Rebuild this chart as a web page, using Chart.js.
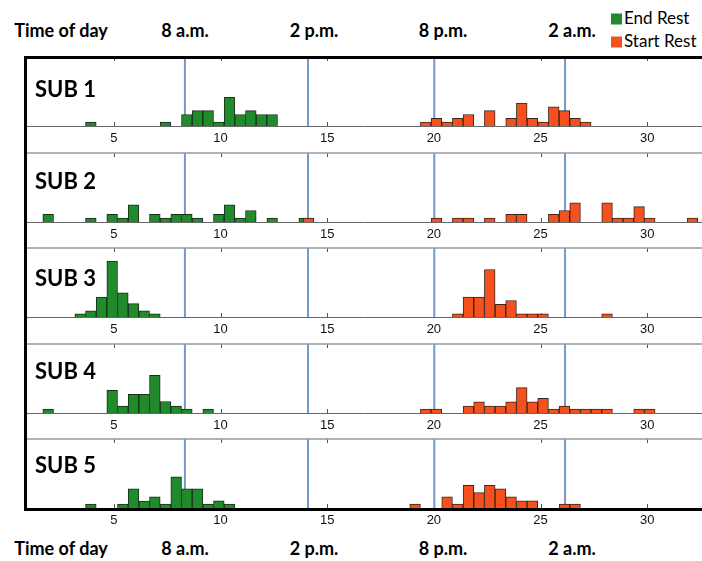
<!DOCTYPE html>
<html>
<head>
<meta charset="utf-8">
<script src="https://cdn.jsdelivr.net/npm/chart.js@4.4.1/dist/chart.umd.min.js"></script>
<style>
  body { margin: 0; width: 702px; height: 561px; background: #fff; position: relative; overflow: hidden; font-family: Lato, "Open Sans", sans-serif; color: #000; }
  .panel { position: absolute; left: 26px; width: 676px; height: 97px; }
  .frame { position: absolute; left: 24px; top: 56px; width: 700px; height: 449px; border: 3px solid #000; border-right: none; pointer-events: none; }
  .sub { position: absolute; left: 35px; font-weight: bold; font-size: 22px; line-height: 1; transform: translateY(-50%); }
  .hdr { position: absolute; font-weight: bold; font-size: 18px; line-height: 1; transform: translate(-50%, -50%); white-space: nowrap; }
  .legend { position: absolute; font-size: 17px; line-height: 1; transform: translateY(-50%); white-space: nowrap; }
  .legend span { display: inline-block; width: 11px; height: 11px; margin-right: 2px; vertical-align: -1px; }
</style>
</head>
<body>
<div id="charts"></div>
<div class="frame"></div>

<script>
// Axis range (hours) and ticks.
const xMin = 0.88;
const xMax = 32.57;
const tickValues = [5, 10, 15, 20, 25, 30];
const binWidth = 0.5;

// Clock reference lines and their labels.
const clockLines = [8.33, 14.1, 20.02, 26.15];
const clockLabels = ['8 a.m.', '2 p.m.', '8 p.m.', '2 a.m.'];

const subjects = ['SUB 1', 'SUB 2', 'SUB 3', 'SUB 4', 'SUB 5'];

// End Rest histograms: [bin centre, count].
const endRest1 = [[3.92, 1], [7.42, 1], [8.42, 3], [8.92, 4], [9.42, 4], [9.92, 1], [10.42, 7.5], [10.92, 3], [11.42, 4], [11.92, 3], [12.42, 3]];
const endRest2 = [[1.92, 2], [3.92, 1], [4.92, 2], [5.42, 1], [5.92, 4.5], [6.92, 2], [7.42, 1], [7.92, 2], [8.42, 2], [8.92, 1], [9.92, 2], [10.42, 4.5], [10.92, 1], [11.42, 3], [12.42, 1], [13.92, 1]];
const endRest3 = [[3.42, 0.8], [3.92, 1.6], [4.42, 5.2], [4.92, 14.6], [5.42, 6.3], [5.92, 3.5], [6.42, 1.6], [6.92, 0.8]];
const endRest4 = [[1.92, 1], [4.92, 5.9], [5.42, 1.8], [5.92, 4.9], [6.42, 4.9], [6.92, 9.8], [7.42, 3], [7.92, 1.8], [8.42, 1], [9.42, 1]];
const endRest5 = [[3.92, 1], [5.42, 1], [5.92, 5], [6.42, 1.8], [6.92, 2.9], [7.42, 1], [7.92, 8.1], [8.42, 5], [8.92, 5], [9.42, 1], [9.92, 1.9], [10.42, 1]];

// Start Rest histograms: [bin centre, count].
const startRest1 = [[19.62, 1], [20.12, 2], [20.62, 1], [21.12, 2], [21.62, 3], [22.62, 4], [23.62, 2], [24.12, 6], [24.62, 2], [25.12, 1], [25.62, 5], [26.12, 4], [26.62, 2], [27.12, 1]];
const startRest2 = [[14.12, 1], [20.12, 1], [21.12, 1], [21.62, 1], [22.62, 1], [23.62, 2], [24.12, 2], [25.62, 2], [26.12, 3], [26.62, 5], [28.12, 5], [28.62, 1], [29.12, 1], [29.62, 4], [30.12, 1], [32.12, 1]];
const startRest3 = [[21.12, 0.8], [21.62, 5.2], [22.12, 5.2], [22.62, 12.4], [23.12, 3.3], [23.62, 4.3], [24.12, 0.8], [24.62, 0.8], [25.12, 0.8], [28.12, 0.8]];
const startRest4 = [[19.62, 1], [20.12, 1], [21.62, 1.8], [22.12, 2.9], [22.62, 1.8], [23.12, 1.8], [23.62, 2.9], [24.12, 6.6], [24.62, 2.9], [25.12, 3.8], [25.62, 1], [26.12, 1.8], [26.62, 1], [27.12, 1], [27.62, 1], [28.12, 1], [29.62, 1], [30.12, 1]];
const startRest5 = [[19.12, 1], [20.62, 2.9], [21.12, 1], [21.62, 5.9], [22.12, 4], [22.62, 5.9], [23.12, 5], [23.62, 2.9], [24.12, 1.9], [24.62, 1.9], [26.12, 1], [26.62, 1]];

const endRest = [endRest1, endRest2, endRest3, endRest4, endRest5];
const startRest = [startRest1, startRest2, startRest3, startRest4, startRest5];

const green = '#1f8b2b';
const orange = '#f4511f';
const yMax = 18;

const panelTops = [57, 153, 248, 344, 439];
const subCentres = [89, 181, 278, 371, 465];
const hdrCentres = [185, 314, 443, 572];
const canvasWidth = 676;

// Blue clock lines, frame lines and inward ticks, all from the x scale.
const panelDecor = {
  id: 'panelDecor',
  beforeDatasetsDraw(chart) {
    const { ctx, chartArea, scales: { x } } = chart;
    ctx.save();
    ctx.strokeStyle = '#555';
    ctx.lineWidth = 1;
    tickValues.forEach(function (v) {
      const px = Math.round(x.getPixelForValue(v)) + 0.5;
      ctx.beginPath();
      ctx.moveTo(px, chartArea.bottom);
      ctx.lineTo(px, chartArea.bottom - 4);
      ctx.moveTo(px, chartArea.top);
      ctx.lineTo(px, chartArea.top + 4);
      ctx.stroke();
    });
    ctx.strokeStyle = '#7299c9';
    ctx.lineWidth = 2;
    clockLines.forEach(function (v) {
      const px = x.getPixelForValue(v);
      ctx.beginPath();
      ctx.moveTo(px, chartArea.top);
      ctx.lineTo(px, chartArea.bottom);
      ctx.stroke();
    });
    ctx.strokeStyle = '#999';
    ctx.lineWidth = 1.5;
    ctx.beginPath();
    ctx.moveTo(chartArea.left, chartArea.top);
    ctx.lineTo(chartArea.right, chartArea.top);
    ctx.stroke();
    ctx.restore();
  }
};

function addText(cls, text, left, top) {
  const d = document.createElement('div');
  d.className = cls;
  d.textContent = text;
  d.style.left = left + 'px';
  d.style.top = top + 'px';
  document.body.appendChild(d);
  return d;
}

function makePanel(i) {
  const wrap = document.createElement('div');
  wrap.className = 'panel';
  wrap.style.top = (panelTops[i] - 2) + 'px';
  const canvas = document.createElement('canvas');
  canvas.width = canvasWidth;
  canvas.height = 97;
  wrap.appendChild(canvas);
  document.getElementById('charts').appendChild(wrap);

  const thickness = binWidth * canvasWidth / (xMax - xMin);

  new Chart(canvas, {
    type: 'bar',
    data: {
      datasets: [{
        label: 'Start Rest',
        data: startRest[i].map(function (b) { return { x: b[0], y: b[1] }; }),
        backgroundColor: orange,
        borderColor: '#3b2418',
        borderWidth: 1,
        order: 0
      }, {
        label: 'End Rest',
        data: endRest[i].map(function (b) { return { x: b[0], y: b[1] }; }),
        backgroundColor: green,
        borderColor: '#1c2e1c',
        borderWidth: 1,
        order: 1
      }]
    },
    options: {
      responsive: false,
      animation: false,
      events: [],
      grouped: false,
      barThickness: thickness,
      layout: { padding: { top: 2, left: 0, right: 0, bottom: 0 } },
      plugins: { legend: { display: false }, tooltip: { enabled: false } },
      scales: {
        x: {
          type: 'linear',
          offset: false,
          min: xMin,
          max: xMax,
          afterFit: function (s) { s.height = 26; },
          afterBuildTicks: function (s) { s.ticks = tickValues.map(function (v) { return { value: v }; }); },
          grid: { display: false, drawTicks: false },
          border: { display: true, color: '#666', width: 1 },
          ticks: { autoSkip: false, padding: 5, color: '#111', maxRotation: 0, font: { family: 'Liberation Sans', size: 13 } }
        },
        y: { display: false, min: 0, max: yMax }
      }
    },
    plugins: [panelDecor]
  });

  addText('sub', subjects[i], 35, subCentres[i]);
}

subjects.forEach(function (s, i) { makePanel(i); });

// Time of day headers, top and bottom.
[30, 548].forEach(function (y) {
  addText('hdr', 'Time of day', 61, y);
  clockLabels.forEach(function (t, k) { addText('hdr', t, hdrCentres[k], y); });
});

// Legend.
const lg1 = addText('legend', 'End Rest', 611, 17);
const lg2 = addText('legend', 'Start Rest', 611, 40);
[[lg1, green], [lg2, orange]].forEach(function (p) {
  const sq = document.createElement('span');
  sq.style.background = p[1];
  p[0].insertBefore(sq, p[0].firstChild);
});
</script>
</body>
</html>
